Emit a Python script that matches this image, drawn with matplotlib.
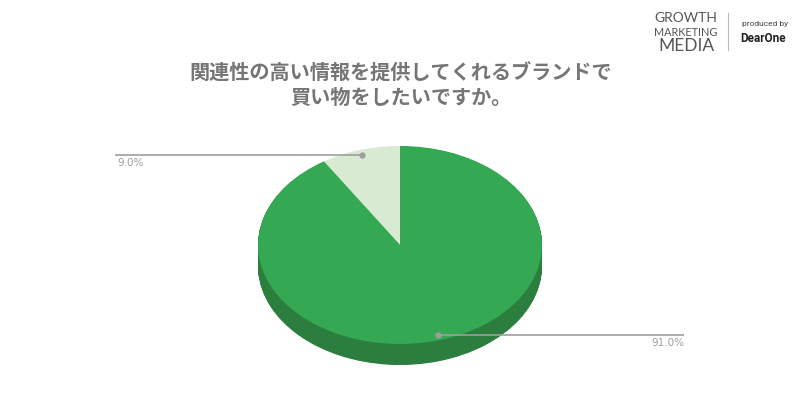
import matplotlib
matplotlib.use("Agg")
import matplotlib.pyplot as plt
import numpy as np

plt.rcParams['font.family'] = ['Noto Sans CJK JP', 'DejaVu Sans']

title_lines = ["関連性の高い情報を提供してくれるブランドで", "買い物をしたいですか。"]
categories = ["いいえ", "はい"]
values = [9.0, 91.0]
labels = ["9.0%", "91.0%"]
top_colors = ["#d9ead3", "#34a853"]
side_colors = ["#b9cbb3", "#2b7e3e"]

W, H = 800, 420
fig = plt.figure(figsize=(8, 4.2), dpi=100)

# pie axes (elliptical)
cx, cy, rx, ry, depth = 400, 245, 142, 99, 21
left = cx - rx
bottom_px = cy + ry + depth
ylow = -1 - 2 * depth / (2 * ry)
ax = fig.add_axes([left / W, (H - bottom_px) / H, 2 * rx / W, (2 * ry + depth) / H])
d = depth / ry
steps = np.linspace(d, 0, 40)
for off in steps[:-1]:
    ax.pie(values, colors=side_colors, startangle=90, counterclock=True,
           center=(0, -off), radius=1, wedgeprops=dict(linewidth=0))
ax.pie(values, colors=top_colors, startangle=90, counterclock=True,
       center=(0, 0), radius=1, wedgeprops=dict(linewidth=0))
ax.set_aspect('auto')
ax.set_xlim(-1, 1)
ax.set_ylim(ylow, 1)
ax.axis('off')

# overlay axes in pixel coordinates (on top)
ov = fig.add_axes([0, 0, 1, 1])
ov.set_xlim(0, W)
ov.set_ylim(H, 0)
ov.axis('off')
ov.set_zorder(10)
ov.patch.set_alpha(0)

# leader lines and labels
fig.canvas.draw()
cum = np.cumsum([0] + values)
total = sum(values)
text_x = [115, 684]
for i, v in enumerate(values):
    mid = 90 + 360 * (cum[i] + v / 2) / total
    px, py = ax.transData.transform((0.95 * np.cos(np.radians(mid)), 0.95 * np.sin(np.radians(mid))))
    py = H - py
    tx = text_x[i]
    ov.plot([px, tx], [py, py], color="#9e9e9e", lw=1.2, solid_capstyle='butt')
    ov.plot([px], [py], 'o', color="#9e9e9e", ms=3.5)
    ha = 'left' if tx < px else 'right'
    ov.text(tx + (2 if ha == 'left' else 0), py + 3, labels[i], ha=ha, va='top',
            color="#9e9e9e", fontsize=7.5, family=['DejaVu Sans'])

# title
ov.text(401, 73, title_lines[0], ha='center', va='center', fontsize=14.5,
        fontweight='bold', color="#757575")
ov.text(401, 97, title_lines[1], ha='center', va='center', fontsize=14.5,
        fontweight='bold', color="#757575")

# logo
ov.text(686, 18, "GROWTH", ha='center', va='center', fontsize=10, color="#555555",
        family=['Lato', 'DejaVu Sans'])
ov.text(686, 32, "MARKETING", ha='center', va='center', fontsize=7.8, color="#555555",
        family=['Lato', 'DejaVu Sans'])
ov.text(686, 46, "MEDIA", ha='center', va='center', fontsize=12.5, color="#555555",
        family=['Lato', 'DejaVu Sans'])
ov.plot([728, 728], [13, 50], color="#bbbbbb", lw=0.8)
ov.text(742, 24, "produced by", ha='left', va='center', fontsize=6, color="#444444",
        family=['Roboto', 'DejaVu Sans'])
ov.text(740, 39, "DearOne", ha='left', va='center', fontsize=8.5, color="#222222",
        fontweight='bold', family=['Roboto', 'DejaVu Sans'])

fig.savefig("out.png", dpi=100)
